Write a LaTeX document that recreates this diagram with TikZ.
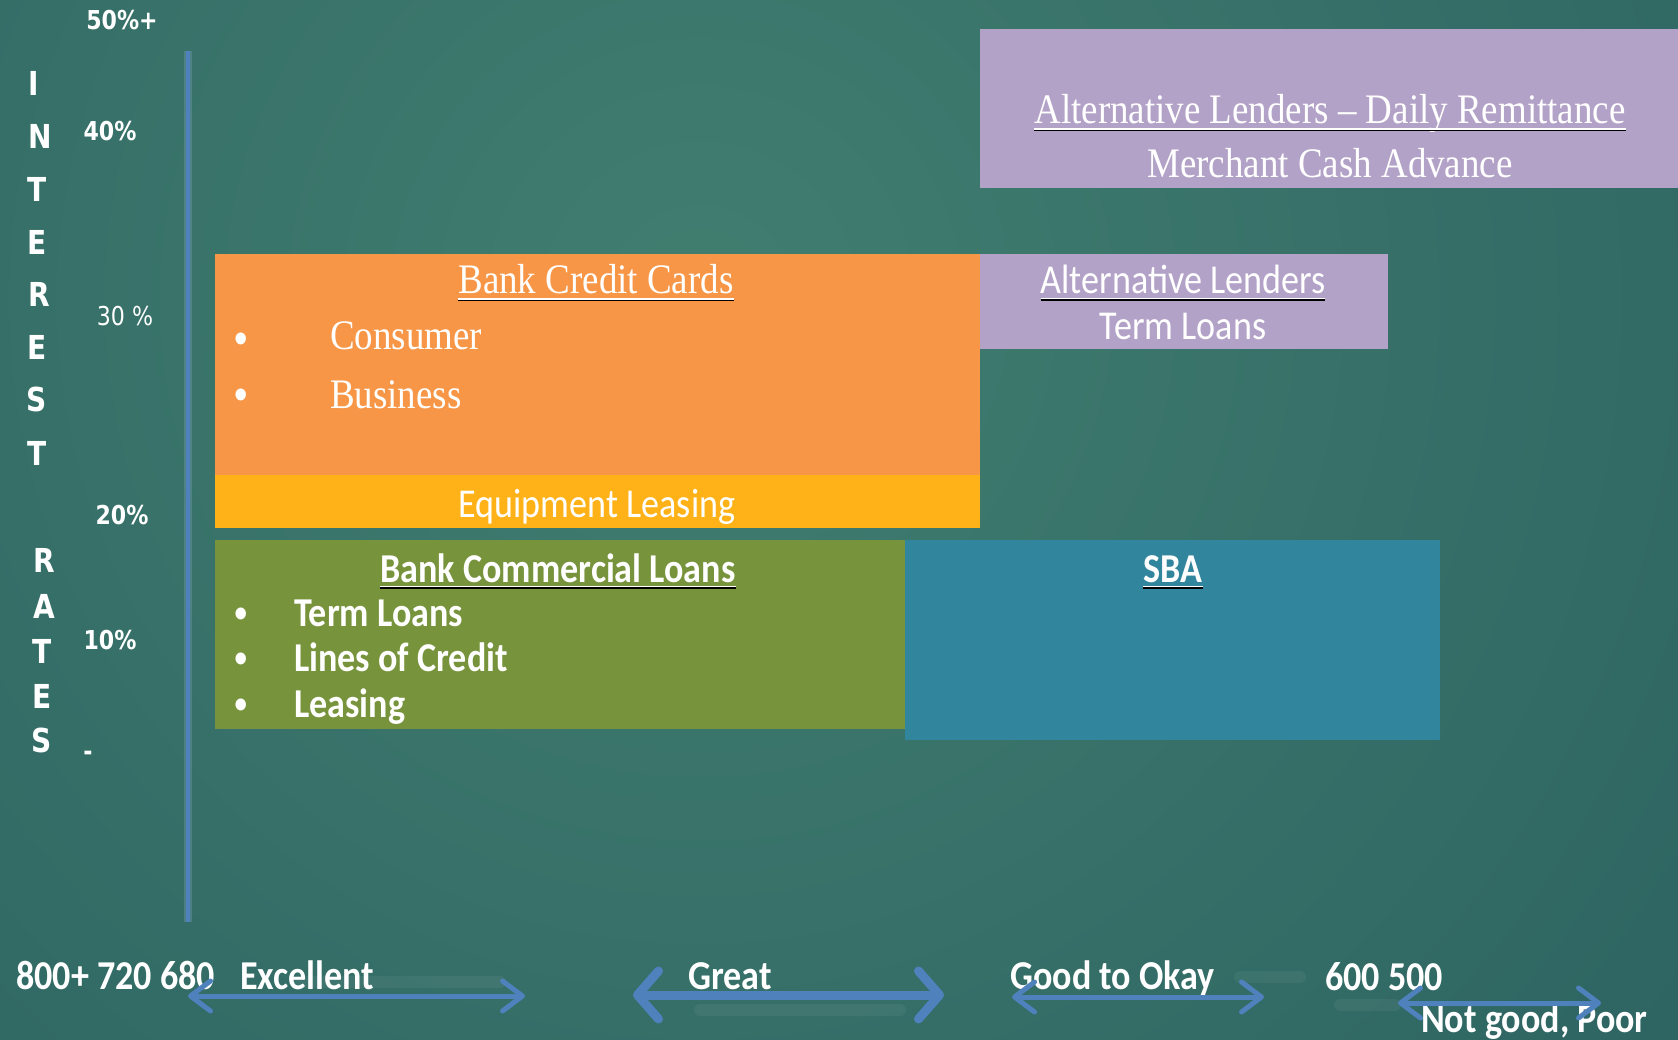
\documentclass[tikz,border=0pt]{standalone}
\usepackage{fontspec}
\usetikzlibrary{arrows.meta}
\newfontfamily\tnrfont[FakeStretch=0.88,Ligatures=TeX]{Liberation Serif}
\newfontfamily\calfont[FakeStretch=0.88]{Carlito}
\newfontfamily\dvsfont[FakeStretch=0.85]{DejaVu Sans}
\definecolor{bgin}{HTML}{417E70}
\definecolor{bgmid}{HTML}{2F6663}
\definecolor{bgout}{HTML}{1D4553}
\definecolor{lav}{HTML}{B3A2C7}
\definecolor{orng}{HTML}{F79646}
\definecolor{ylw}{HTML}{FEB217}
\definecolor{grn}{HTML}{77933C}
\definecolor{tealbox}{HTML}{31859C}
\definecolor{axblue}{HTML}{4F81BD}
\pgfdeclareradialshading{bgshade}{\pgfpoint{0bp}{0bp}}{color(0bp)=(bgin); color(22bp)=(bgmid); color(50bp)=(bgout)}
\begin{document}
\begin{tikzpicture}[x=1pt,y=-1pt,
  box/.style={draw=none,inner sep=0pt,anchor=north west},
  serift/.style={text=white,inner sep=0pt,font=\tnrfont\fontsize{42}{50}\selectfont},
  calt/.style={text=white,inner sep=0pt,font=\calfont\fontsize{41}{49}\selectfont},
  calb/.style={text=white,inner sep=0pt,font=\calfont\bfseries\fontsize{41}{49}\selectfont},
  axlab/.style={text=white,inner sep=0pt,font=\dvsfont\bfseries\fontsize{26}{30}\selectfont},
  axreg/.style={text=white,inner sep=0pt,font=\dvsfont\fontsize{26}{30}\selectfont},
  vlet/.style={text=white,inner sep=0pt,font=\dvsfont\bfseries\fontsize{33}{36}\selectfont},
  bullt/.style={text=white,inner sep=0pt,font=\tnrfont\fontsize{50}{50}\selectfont},
  ulw/.style={white,line width=1.4pt},
  ulk/.style={black,line width=1.6pt},
  thinarr/.style={axblue,line width=5pt,line cap=round,{Straight Barb[length=20pt,width=30pt,round]}-{Straight Barb[length=20pt,width=30pt,round]}},
  bigarr/.style={axblue,line width=9pt,line cap=round,{Straight Barb[length=21pt,width=48pt,round]}-{Straight Barb[length=21pt,width=48pt,round]}},
  ghost/.style={white,opacity=0.05,line width=12pt,line cap=round}
]
\useasboundingbox (0,0) rectangle (1678,1040);
% background
\begin{scope}
\clip (0,0) rectangle (1678,1040);
\shade[shading=bgshade] (-600,-1000) rectangle (2000,1600);
\end{scope}

% faint reflections
\coordinate (g1a) at (300,982); \coordinate (g1b) at (500,982);
\coordinate (g2a) at (700,1010); \coordinate (g2b) at (900,1010);
\coordinate (g3a) at (1240,977); \coordinate (g3b) at (1300,977);
\coordinate (g4a) at (1340,1005); \coordinate (g4b) at (1395,1005);
\draw[ghost] (g1a) -- (g1b);
\draw[ghost] (g2a) -- (g2b);
\draw[ghost] (g3a) -- (g3b);
\draw[ghost] (g4a) -- (g4b);

% vertical axis
\coordinate (axtop) at (188,51);
\coordinate (axbot) at (188,922);
\draw[axblue!60,line width=8pt,opacity=0.25] (axtop) -- (axbot);
\draw[axblue,line width=4pt] (axtop) -- (axbot);

% boxes
\node[box,fill=lav,minimum width=698pt,minimum height=159pt] (mca) at (980,29) {};
\node[box,fill=lav,minimum width=408pt,minimum height=95pt] (alt) at (980,254) {};
\node[box,fill=orng,minimum width=765pt,minimum height=222pt] (bcc) at (215,254) {};
\node[box,fill=ylw,minimum width=765pt,minimum height=53pt] (eql) at (215,475) {};
\node[box,fill=grn,minimum width=690pt,minimum height=189pt] (bcl) at (215,540) {};
\node[box,fill=tealbox,minimum width=535pt,minimum height=200pt] (sba) at (905,540) {};

% texts in boxes
\node[serift,anchor=base] (t1) at (1330,124) {Alternative Lenders – Daily Remittance};
\draw[ulk] ([yshift=-6.5pt]t1.base west) -- ([yshift=-6.5pt]t1.base east);
\draw[ulw] ([yshift=-5pt]t1.base west) -- ([yshift=-5pt]t1.base east);
\node[serift,anchor=base] (t2) at (1330,178) {Merchant Cash Advance};

\node[serift,anchor=base] (t3) at (596,294) {Bank Credit Cards};
\draw[ulk] ([yshift=-6.5pt]t3.base west) -- ([yshift=-6.5pt]t3.base east);
\draw[ulw] ([yshift=-5pt]t3.base west) -- ([yshift=-5pt]t3.base east);
\node[bullt,anchor=center] (b1) at (241,344.5) {•};
\node[serift,anchor=base west] (t4) at (330,349) {Consumer};
\node[bullt,anchor=center] (b2) at (241,400) {•};
\node[serift,anchor=base west] (t5) at (330,408) {Business};

\node[calt,anchor=base] (t6) at (1183,294) {Alternative Lenders};
\draw[ulk] ([yshift=-6pt]t6.base west) -- ([yshift=-6pt]t6.base east);
\draw[ulw] ([yshift=-4.5pt]t6.base west) -- ([yshift=-4.5pt]t6.base east);
\node[calt,anchor=base] (t7) at (1183,340) {Term Loans};

\node[calt,anchor=base] (t8) at (597,517) {Equipment Leasing};

\node[calb,anchor=base] (t9) at (558,582) {Bank Commercial Loans};
\draw[ulk] ([yshift=-6pt]t9.base west) -- ([yshift=-6pt]t9.base east);
\draw[ulw] ([yshift=-4.5pt]t9.base west) -- ([yshift=-4.5pt]t9.base east);
\node[bullt,anchor=center] (b3) at (241,619.5) {•};
\node[calb,anchor=base west] (t10) at (294,626) {Term Loans};
\node[bullt,anchor=center] (b4) at (241,664.5) {•};
\node[calb,anchor=base west] (t11) at (294,671) {Lines of Credit};
\node[bullt,anchor=center] (b5) at (241,710.5) {•};
\node[calb,anchor=base west] (t12) at (294,717) {Leasing};

\node[calb,anchor=base] (t13) at (1173,582) {SBA};
\draw[ulk] ([yshift=-6pt]t13.base west) -- ([yshift=-6pt]t13.base east);
\draw[ulw] ([yshift=-4.5pt]t13.base west) -- ([yshift=-4.5pt]t13.base east);

% y-axis labels
\node[axlab,anchor=base] (p50) at (122,30) {50\%+};
\node[axlab,anchor=base] (p40) at (110,141) {40\%};
\node[axreg,anchor=base] (p30) at (125,326) {30 \%};
\node[axlab,anchor=base] (p20) at (122,524) {20\%};
\node[axlab,anchor=base] (p10) at (110,649) {10\%};
\node[axlab,anchor=center] (p0) at (88,756) {-};

% vertical words
\foreach \l/\xx/\yy [count=\i] in {I/34/83,N/40/136,T/37/189,E/37/242,R/39/294,E/37/347,S/37/399,T/37/453,R/44/560,A/44/606,T/42/651,E/42/696,S/42/740}
  \node[vlet,anchor=center] (v\i) at (\xx,\yy) {\l};

% bottom labels
\node[calb,anchor=base west] (s1) at (16,989) {800+ 720 680};
\node[calb,anchor=base west] (s2) at (240,989) {Excellent};
\node[calb,anchor=base west] (s3) at (688,989) {Great};
\node[calb,anchor=base west] (s4) at (1010,989) {Good to Okay};
\node[calb,anchor=base west] (s5) at (1325,990) {600 500};
\node[calb,anchor=base west] (s6) at (1421,1032) {Not good, Poor};

% arrows
\coordinate (a1l) at (188,996); \coordinate (a1r) at (525,996);
\coordinate (a2l) at (633,995); \coordinate (a2r) at (944,995);
\coordinate (a3l) at (1012,997); \coordinate (a3r) at (1264,997);
\coordinate (a4l) at (1398,1003); \coordinate (a4r) at (1601,1003);
\draw[thinarr] (a1l) -- (a1r);
\draw[bigarr] (a2l) -- (a2r);
\draw[thinarr] (a3l) -- (a3r);
\draw[thinarr] (a4l) -- (a4r);
\end{tikzpicture}
\end{document}
